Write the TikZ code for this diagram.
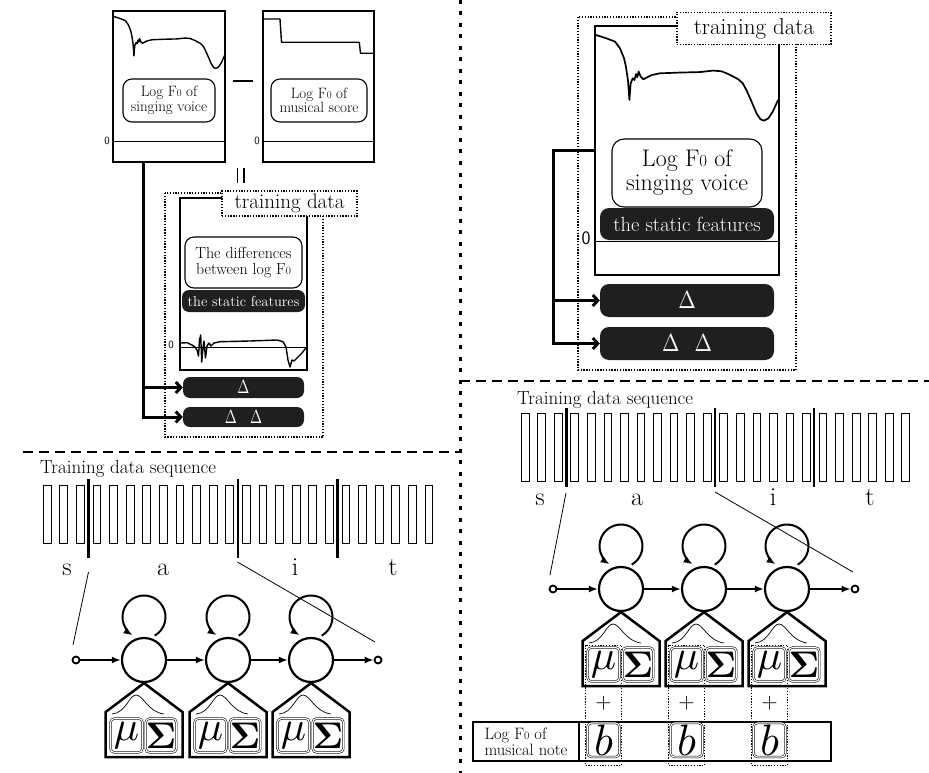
\documentclass[tikz,border=0pt]{standalone}
\usepackage{graphicx}
\usepackage{amsmath}
\usetikzlibrary{arrows.meta}
\newcommand{\Fz}{F\scalebox{0.7}{0}}
\newcommand{\fsz}[2]{\fontsize{#1}{#2}\selectfont}
\newcommand{\drawsing}[1]{%
  \draw[fcurve,line width=#1] (0.005,0.036) -- (0.064,0.050) -- (0.109,0.063) -- (0.136,0.090) -- (0.158,0.130) -- (0.168,0.163) -- (0.179,0.217) -- (0.187,0.297) -- (0.194,0.230) -- (0.205,0.210) -- (0.214,0.217) -- (0.223,0.193) -- (0.230,0.206) -- (0.237,0.183) -- (0.248,0.203) -- (0.263,0.214) -- (0.281,0.207) -- (0.308,0.197) -- (0.353,0.190) -- (0.462,0.187) -- (0.571,0.185) -- (0.643,0.179) -- (0.688,0.182) -- (0.725,0.193) -- (0.779,0.214) -- (0.803,0.230) -- (0.824,0.259) -- (0.851,0.304) -- (0.878,0.351) -- (0.900,0.375) -- (0.918,0.380) -- (0.942,0.371) -- (0.966,0.344) -- (0.995,0.297);}
\tikzset{
  plotbox/.style={draw, line width=1.1pt, inner sep=0pt},
  zeroline/.style={line width=1pt},
  fcurve/.style={line width=1.5pt, line join=round, line cap=round},
  labbox/.style={draw, fill=white, rounded corners=9pt, line width=1.1pt, align=center, inner sep=0pt},
  blackbox/.style={fill=black!88, text=white, rounded corners=7pt, inner sep=0pt, align=center},
  dotln/.style={line width=1.3pt, dash pattern=on 1.3pt off 1.5pt},
  tdlabel/.style={draw, fill=white, dotln, inner sep=0pt},
  zerolab/.style={font=\sffamily\fsz{11}{11}, inner sep=0pt},
  thickconn/.style={line width=3pt, -{Straight Barb[length=5pt,width=11pt]}},
  vdiv/.style={line width=3pt, dash pattern=on 4pt off 7.5pt},
  hdiv/.style={line width=1.8pt, dash pattern=on 10pt off 6pt},
  frm/.style={line width=1pt},
  sepline/.style={line width=2.6pt},
  thinln/.style={line width=0.8pt},
  phon/.style={font=\fsz{26}{26}, anchor=base, inner sep=0pt},
  seqlab/.style={font=\fsz{19}{19}, anchor=base west, inner sep=0pt},
  hstate/.style={circle, draw, line width=2.2pt, minimum size=44pt, inner sep=0pt},
  endpt/.style={circle, draw, line width=1.8pt, minimum size=7pt, inner sep=0pt, fill=white},
  harrow/.style={line width=1.8pt, -{Latex[length=9pt,width=7pt]}},
  loopln/.style={line width=2pt, -{Latex[length=9pt,width=7pt]}},
  pent/.style={line width=2.5pt, line join=miter},
  bell/.style={line width=0.7pt},
  pbox/.style={draw, fill=white, double, double distance=1.1pt, line width=0.55pt, rounded corners=4pt, minimum height=34pt, inner sep=0pt},
  barbox/.style={draw, line width=1.4pt, inner sep=0pt},
}
\newcommand{\hmmunit}[3]{%
  \node[hstate] (s#1) at (#2,#3) {};
  \coordinate (lc#1) at (#2,#3-43);
  \draw[loopln] ([shift={(-60:21.5pt)}]lc#1) arc[start angle=-60,end angle=238,radius=21.5pt];
  \draw[pent] (s#1.south) -- ++(-38.5,29) -- ++(0,45) -- ++(77,0) -- ++(0,-45) -- cycle;
  \draw[bell] (#2-32,#3+54) .. controls (#2-18,#3+53) and (#2-15,#3+35) .. (#2-8,#3+35) .. controls (#2-1,#3+35) and (#2+4,#3+52) .. (#2+20,#3+54);
  \node[pbox, minimum width=32pt] (mu#1) at (#2-17.5,#3+75.5) {\scalebox{4.2}{$\mu$}};
  \node[pbox, minimum width=30pt] (sg#1) at (#2+17,#3+75.5) {\scalebox{3.7}{$\mathbf{\Sigma}$}};
}
\begin{document}
\begin{tikzpicture}[x=1pt,y=-1pt]
\useasboundingbox (0,0) rectangle (929,773);

% ================= top left =================
\node[plotbox, minimum width=112pt, minimum height=151pt] (plotA) at (169,86.5) {};
\draw[zeroline] (113,142) -- (225,142);
\node[zerolab] (zA) at (107,141) {0};
\begin{scope}[shift={(113,11)}, x=112pt, y=-151pt]
  \drawsing{1.4pt}
\end{scope}
\node[labbox, minimum width=92pt, minimum height=43pt, font=\fsz{15}{14.5}] (tA) at (169,100.5) {Log \Fz{} of\\singing voice};

\node[plotbox, minimum width=111pt, minimum height=151pt] (plotB) at (318.5,86.5) {};
\draw[zeroline] (263,142) -- (374,142);
\node[zerolab] (zB) at (257,141) {0};
\draw[fcurve,line width=1.4pt] (263.5,19) -- (280,19) -- (281.5,42.3) -- (359.3,42.3) -- (360.5,53.3) -- (374,53.3);
\node[labbox, minimum width=96pt, minimum height=43pt, font=\fsz{15}{14.5}] (tB) at (319,100.5) {Log \Fz{} of\\musical score};

\draw[line width=1.4pt] (233,81) -- (253,81);
\draw[line width=1.3pt] (237.5,168) -- (237.5,183);
\draw[line width=1.3pt] (244,168) -- (244,183);

% middle (differences)
\draw[dotln] (165,193) rectangle (323,437);
\node[plotbox, minimum width=127pt, minimum height=172pt] (plotD) at (243.5,284) {};
\draw[zeroline] (180,347) -- (307,347);
\node[zerolab] (zD) at (171,345) {0};
\draw[fcurve,line width=1.4pt] (180.7,343) -- (187,342.7) -- (192,345) -- (195,347) -- (197,350) -- (198.5,356) -- (199.5,340) -- (200.7,335) -- (201.7,362) -- (203,348) -- (204,341) -- (205.5,358) -- (207,346) -- (209,343) -- (211,346) -- (214,343) -- (220,341.7) -- (250,341) -- (277,340) -- (283,341.7) -- (286,347) -- (288,360) -- (290,367) -- (292,360) -- (294,361) -- (297,358) -- (302,353) -- (306.5,347);
\node[labbox, minimum width=117pt, minimum height=51pt, font=\fsz{16}{16}] (tD) at (243.5,262.5) {The differences\\between log \Fz};
\node[blackbox, minimum width=123pt, minimum height=22pt, font=\fsz{14.5}{14}] (sD) at (243.5,301) {the static features};
\node[blackbox, minimum width=121pt, minimum height=21pt] (dL1) at (243.5,387.5) {\scalebox{1.45}[1.9]{$\Delta$}};
\node[blackbox, minimum width=121pt, minimum height=20pt] (dL2) at (243.5,417) {\scalebox{1.45}[1.9]{$\Delta$}\hspace{13pt}\scalebox{1.45}[1.9]{$\Delta$}};
\node[tdlabel, minimum width=135pt, minimum height=25pt, font=\fsz{21}{21}] (lblL) at (289.5,203.5) {training data};
\coordinate (jA) at ([xshift=-26pt]plotA.south);
\draw[thickconn] (jA) |- (dL2.west);
\draw[thickconn] (jA) |- (dL1.west);

% ================= top right =================
\draw[dotln] (578,17) rectangle (796,370);
\node[plotbox, minimum width=184pt, minimum height=249pt] (plotR) at (687,150.5) {};
\draw[zeroline] (595,241) -- (779,241);
\node[zerolab, font=\sffamily\fsz{19}{19}] (zR) at (586,238) {0};
\begin{scope}[shift={(595,26)}, x=184pt, y=-249pt]
  \drawsing{1.7pt}
\end{scope}
\node[labbox, rounded corners=12pt, minimum width=150pt, minimum height=68pt, font=\fsz{24}{24}] (tR) at (687,173) {Log \Fz{} of\\singing voice};
\node[blackbox, rounded corners=9pt, minimum width=174pt, minimum height=32pt, font=\fsz{20.5}{20}] (sR) at (687,224) {the static features};
\node[blackbox, rounded corners=9pt, minimum width=174pt, minimum height=33pt] (dR1) at (687,300.5) {\scalebox{2.1}[2.45]{$\Delta$}};
\node[blackbox, rounded corners=9pt, minimum width=174pt, minimum height=33pt] (dR2) at (687,343.5) {\scalebox{2.1}[2.45]{$\Delta$}\hspace{15pt}\scalebox{2.1}[2.45]{$\Delta$}};
\node[tdlabel, minimum width=154pt, minimum height=32pt, font=\fsz{23}{23}] (lblR) at (754,28.5) {training data};
\coordinate (bendR) at (553,150.5);
\draw[thickconn] (plotR.west) -- (bendR) |- (dR2.west);
\draw[thickconn] (bendR) |- (dR1.west);

% ================= dividers =================
\draw[vdiv] (460,0) -- (460,773);
\draw[hdiv] (23,452) -- (460,452);
\draw[hdiv] (460,381) -- (929,381);

% ================= bottom left =================
\node[seqlab] (tsL) at (40,473) {Training data sequence};
\foreach \i in {0,...,23} \draw[frm] ({43.3+\i*16.6},485) rectangle ++(7.7,58);
\foreach \x in {88.7,238.1,337.7} \draw[sepline] (\x,479) -- (\x,558);
\node[phon] (pL1) at (67,575) {s};
\node[phon] (pL2) at (163,575) {a};
\node[phon] (pL3) at (295,575) {i};
\node[phon] (pL4) at (393,575) {t};

\hmmunit{L1}{144}{660}
\hmmunit{L2}{228}{660}
\hmmunit{L3}{311}{660}
\node[endpt] (stL) at (76,660) {};
\node[endpt] (enL) at (378,660) {};
\draw[harrow] (stL) -- (sL1);
\draw[harrow] (sL1) -- (sL2);
\draw[harrow] (sL2) -- (sL3);
\draw[harrow] (sL3) -- (enL);
\coordinate (aL1) at (88.5,572);
\coordinate (bL1) at (73,645);
\coordinate (aL2) at (237.5,562);
\coordinate (bL2) at (375,642);
\draw[thinln] (aL1) -- (bL1);
\draw[thinln] (aL2) -- (bL2);

% ================= bottom right =================
\node[seqlab] (tsR) at (517,404) {Training data sequence};
\foreach \i in {0,...,23} \draw[frm] ({521.3+\i*16.55},413) rectangle ++(7.7,68.5);
\foreach \x in {566.3,714.8,814.1} \draw[sepline] (\x,408) -- (\x,487);
\node[phon] (pR1) at (540,505) {s};
\node[phon] (pR2) at (637,505) {a};
\node[phon] (pR3) at (773,505) {i};
\node[phon] (pR4) at (870,505) {t};

\node[barbox, minimum width=252pt, minimum height=39pt] (noteBar) at (705,741.5) {};
\node[barbox, minimum width=106pt, minimum height=39pt, font=\fsz{16.5}{16}, align=left] (noteL) at (526,741.5) {Log \Fz{} of\\musical note};

\hmmunit{R1}{621}{589}
\hmmunit{R2}{704}{589}
\hmmunit{R3}{787}{589}
\node[endpt] (stR) at (553,589) {};
\node[endpt] (enR) at (855,589) {};
\draw[harrow] (stR) -- (sR1);
\draw[harrow] (sR1) -- (sR2);
\draw[harrow] (sR2) -- (sR3);
\draw[harrow] (sR3) -- (enR);

\node[inner sep=0pt] (plR1) at (603.5,703) {\scalebox{2.1}{$+$}};
\node[inner sep=0pt] (plR2) at (686.5,703) {\scalebox{2.1}{$+$}};
\node[inner sep=0pt] (plR3) at (769.5,703) {\scalebox{2.1}{$+$}};
\node[pbox, minimum width=32pt] (bR1) at (603.5,740) {\scalebox{4.4}{$b$}};
\node[pbox, minimum width=32pt] (bR2) at (686.5,740) {\scalebox{4.4}{$b$}};
\node[pbox, minimum width=32pt] (bR3) at (769.5,740) {\scalebox{4.4}{$b$}};
\draw[dotln] ([shift={(-2,-2)}]muR1.north west) rectangle ([shift={(2,8)}]bR1.south east);
\draw[dotln] ([shift={(-2,-2)}]muR2.north west) rectangle ([shift={(2,8)}]bR2.south east);
\draw[dotln] ([shift={(-2,-2)}]muR3.north west) rectangle ([shift={(2,8)}]bR3.south east);

\coordinate (aR1) at (566,493);
\coordinate (bR1c) at (550,575);
\coordinate (aR2) at (715,492);
\coordinate (bR2c) at (853,572);
\draw[thinln] (aR1) -- (bR1c);
\draw[thinln] (aR2) -- (bR2c);
\end{tikzpicture}
\end{document}
